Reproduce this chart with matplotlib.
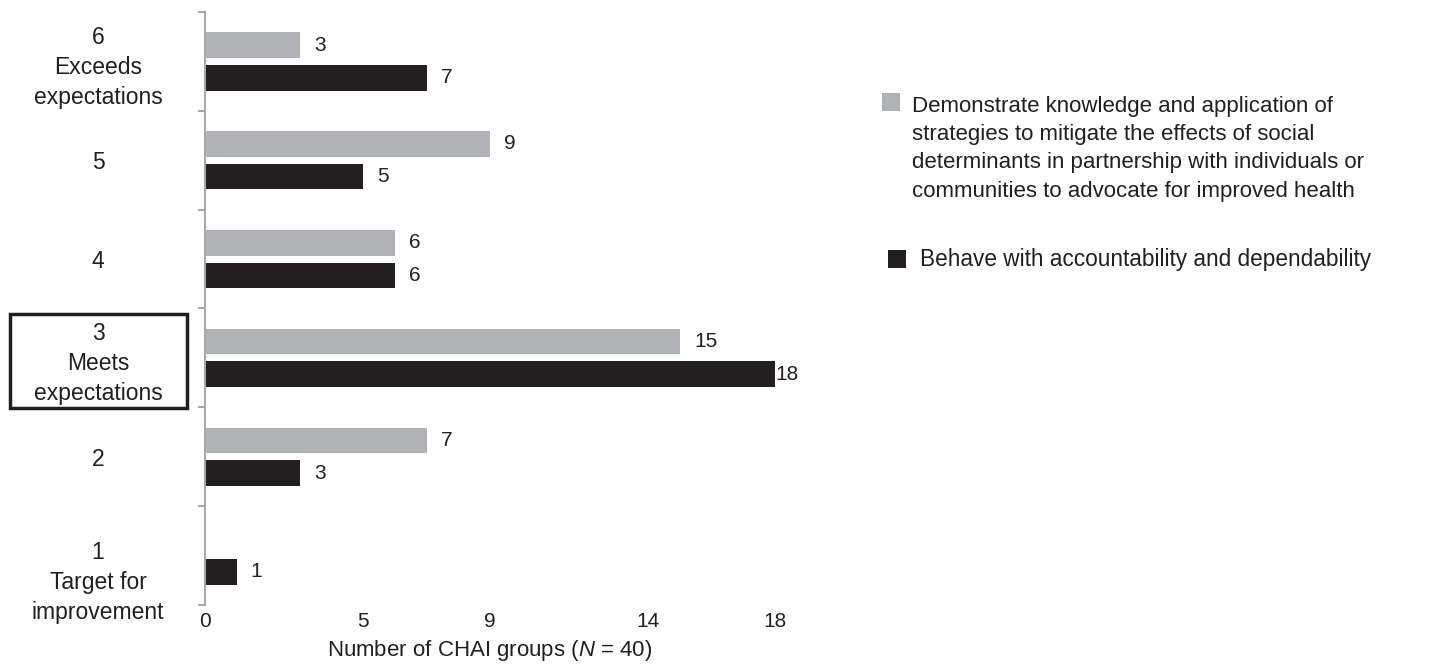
import matplotlib.pyplot as plt
import matplotlib.patches as patches
import matplotlib.transforms as mtransforms
import numpy as np

plt.rcParams['font.family'] = ['Liberation Sans', 'DejaVu Sans']
plt.rcParams['mathtext.fontset'] = 'custom'
plt.rcParams['mathtext.it'] = 'Liberation Sans:italic'
plt.rcParams['mathtext.rm'] = 'Liberation Sans'

# data (bottom -> top)
categories = ['1\nTarget for\nimprovement', '2', '3\nMeets\nexpectations', '4', '5',
              '6\nExceeds\nexpectations']
social = [0, 7, 15, 6, 9, 3]
accountability = [1, 3, 18, 6, 5, 7]
xticks = [0, 5, 9, 14, 18]
legend_labels = ['Demonstrate knowledge and application of\nstrategies to mitigate the effects of social\n'
                 'determinants in partnership with individuals or\ncommunities to advocate for improved health',
                 'Behave with accountability and dependability']

grey = '#b1b2b6'
black = '#231f20'

fig = plt.figure(figsize=(14.29, 6.69), dpi=100)
ax = fig.add_axes([205/1429, 1-605/669, 570/1429, 593/669])

y = np.arange(len(categories))
h = 0.26
off = 0.165
ax.barh(y + off, social, height=h, color=grey)
ax.barh(y - off, accountability, height=h, color=black)

# value labels
for yy, vals in [(y + off, social), (y - off, accountability)]:
    for yi, v in zip(yy, vals):
        if v == 0:
            continue
        dx = 0.5 if v == max(accountability) else 10
        ax.annotate(str(v), (v, yi), xytext=(dx, 0), textcoords='offset points',
                    va='center', ha='left', fontsize=15, color=black)

ax.set_xlim(0, 18)
ax.set_ylim(-0.5, len(categories) - 0.5)
ax.set_xticks(xticks)
ax.set_xticklabels([str(t) for t in xticks], fontsize=15, color=black)
ax.tick_params(axis='x', length=0, pad=5)

ax.set_yticks(y)
ax.set_yticklabels(categories, fontsize=16.5, color=black, ha='center',
                   multialignment='center', linespacing=1.38)
ax.tick_params(axis='y', which='major', length=0, pad=77)
ax.set_yticks(np.arange(-0.5, len(categories), 1), minor=True)
ax.tick_params(axis='y', which='minor', length=5, color='#a8a8a8', width=1.5)

# the bottom label sits a bit lower in the original
lab = ax.get_yticklabels()[0]
lab.set_transform(lab.get_transform() + mtransforms.ScaledTranslation(0, -0.21, fig.dpi_scale_trans))

for s in ['top', 'right', 'bottom']:
    ax.spines[s].set_visible(False)
ax.spines['left'].set_color('#a8a8a8')
ax.spines['left'].set_linewidth(1.5)

ax.set_xlabel('Number of CHAI groups ($\\it{N}$ = 40)', fontsize=16, color=black, labelpad=5)

# box around "Meets expectations"
fig.add_artist(patches.Rectangle((10/1429, 1-408/669), 177/1429, 94/669, fill=False,
                                 edgecolor=black, linewidth=2.5, transform=fig.transFigure))

# legend drawn by hand
fig.add_artist(patches.Rectangle((882/1429, 1-111/669), 18/1429, 18/669, facecolor=grey,
                                 edgecolor='none', transform=fig.transFigure))
fig.text(912/1429, 1-96/669, legend_labels[0], fontsize=16, color=black, va='top',
         ha='left', linespacing=1.45)
fig.add_artist(patches.Rectangle((888/1429, 1-268/669), 18/1429, 18/669, facecolor=black,
                                 edgecolor='none', transform=fig.transFigure))
fig.text(920/1429, 1-259/669, legend_labels[1], fontsize=16.3, color=black, va='center', ha='left')

fig.savefig('out.png', dpi=100)
